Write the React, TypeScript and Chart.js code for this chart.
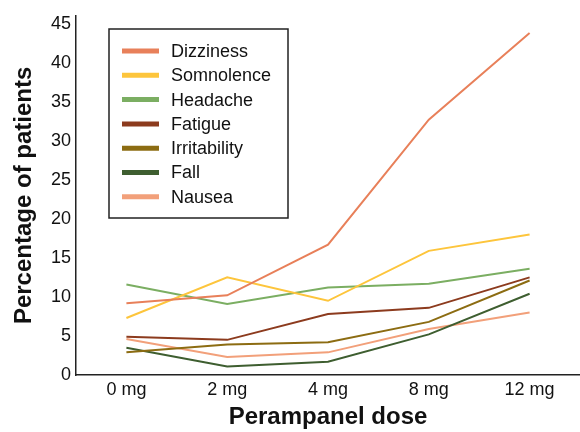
import React, { useEffect, useRef } from "react";
import { Chart, registerables } from "chart.js";

Chart.register(...registerables);

const doses = ["0 mg", "2 mg", "4 mg", "8 mg", "12 mg"];
const dizziness = [9.2, 10.2, 16.7, 32.7, 43.8];
const somnolence = [7.3, 12.5, 9.5, 15.9, 18.0];
const headache = [11.6, 9.1, 11.2, 11.7, 13.6];
const fatigue = [4.9, 4.5, 7.8, 8.6, 12.5];
const irritability = [2.9, 3.9, 4.2, 6.8, 12.1];
const fall = [3.5, 1.1, 1.7, 5.2, 10.4];
const nausea = [4.6, 2.3, 2.9, 5.9, 8.0];

const seriesNames = ["Dizziness", "Somnolence", "Headache", "Fatigue", "Irritability", "Fall", "Nausea"];
const seriesValues = [dizziness, somnolence, headache, fatigue, irritability, fall, nausea];
const seriesColors = ["#E8805A", "#FDC53C", "#7BAE62", "#8C3B1E", "#8C6C12", "#3E5E30", "#F2A07A"];

const FONT = "'Liberation Sans', Arial, Helvetica, sans-serif";

const legendBoxPlugin = {
  id: "legendBox",
  afterDraw(chart: any) {
    const ctx = chart.ctx;
    ctx.save();
    const bx = 109, by = 29, bw = 179, bh = 189;
    ctx.strokeStyle = "#222";
    ctx.lineWidth = 1.5;
    ctx.strokeRect(bx, by, bw, bh);
    ctx.font = `18px ${FONT}`;
    ctx.textBaseline = "middle";
    ctx.textAlign = "left";
    chart.data.datasets.forEach((ds: any, i: number) => {
      const y = 51 + i * 24.3;
      ctx.strokeStyle = ds.borderColor;
      ctx.lineWidth = 5;
      ctx.beginPath();
      ctx.moveTo(122, y);
      ctx.lineTo(159, y);
      ctx.stroke();
      ctx.fillStyle = "#111";
      ctx.fillText(ds.label, 171, y + 1);
    });
    ctx.restore();
  },
};

export default function App() {
  const canvasRef = useRef<HTMLCanvasElement | null>(null);

  useEffect(() => {
    if (!canvasRef.current) return;
    const chart = new Chart(canvasRef.current, {
      type: "line",
      data: {
        labels: doses,
        datasets: seriesNames.map((name, i) => ({
          label: name,
          data: seriesValues[i],
          borderColor: seriesColors[i],
          backgroundColor: seriesColors[i],
          borderWidth: 2,
          pointRadius: 0,
          tension: 0,
          fill: false,
        })),
      },
      options: {
        animation: false,
        responsive: false,
        devicePixelRatio: 1,
        layout: { padding: { top: 13, right: 0, left: 0, bottom: 0 } },
        plugins: {
          legend: { display: false },
          tooltip: { enabled: false },
        },
        scales: {
          x: {
            offset: true,
            grid: { display: false, drawTicks: false },
            border: { display: true, color: "#222", width: 1.5 },
            ticks: {
              color: "#111",
              font: { family: FONT, size: 18 },
              padding: 4,
            },
            title: {
              display: true,
              text: "Perampanel dose",
              color: "#111",
              font: { family: FONT, size: 24, weight: "bold" },
              padding: { top: 0, bottom: 0 },
            },
            afterFit(scale: any) {
              scale.height = 57;
            },
          },
          y: {
            min: 0,
            max: 46,
            grid: { display: false, drawTicks: false },
            border: { display: true, color: "#222", width: 1.5 },
            ticks: {
              stepSize: 5,
              includeBounds: false,
              color: "#111",
              font: { family: FONT, size: 18 },
              padding: 5,
            },
            title: {
              display: true,
              text: "Percentage of patients",
              color: "#111",
              font: { family: FONT, size: 24, weight: "bold" },
              padding: { top: 10, bottom: 0 },
            },
            afterFit(scale: any) {
              scale.width = 76;
            },
          },
        },
      },
      plugins: [legendBoxPlugin],
    });
    return () => chart.destroy();
  }, []);

  return (
    <div style={{ position: "fixed", left: 0, top: 0, width: 580, height: 432, background: "#fff" }}>
      <canvas ref={canvasRef} width={580} height={432} style={{ width: 580, height: 432 }} />
    </div>
  );
}
